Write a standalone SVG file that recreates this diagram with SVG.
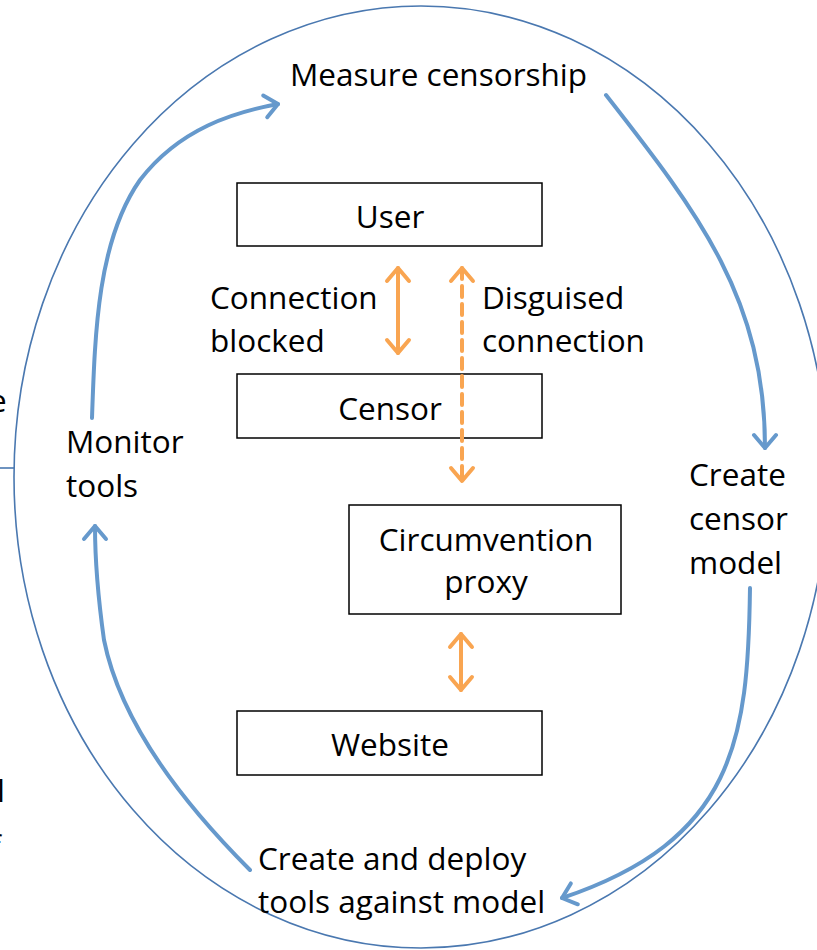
<svg xmlns="http://www.w3.org/2000/svg" width="817" height="950" viewBox="0 0 817 950">
<style>
text{font-family:"Open Sans","Liberation Sans",sans-serif;font-size:31.5px;fill:#000}
.box{fill:#fff;stroke:#000;stroke-width:1.5}
.blue{fill:none;stroke:#6699cc;stroke-width:4;stroke-linecap:round}
.org{fill:none;stroke:#f9a551;stroke-width:4;stroke-linecap:round}
</style>
<defs>
<marker id="bh" markerWidth="10" markerHeight="10" refX="7" refY="5" orient="auto" markerUnits="userSpaceOnUse" viewBox="0 0 10 10" overflow="visible">
<path d="M-6,-6 L7,5 L-6,16" fill="none" stroke="#6699cc" stroke-width="4" stroke-linecap="round" stroke-linejoin="round"/>
</marker>
<marker id="oh" markerWidth="10" markerHeight="10" refX="7" refY="5" orient="auto-start-reverse" markerUnits="userSpaceOnUse" viewBox="0 0 10 10" overflow="visible">
<path d="M-6,-6 L7,5 L-6,16" fill="none" stroke="#f9a551" stroke-width="4" stroke-linecap="round" stroke-linejoin="round"/>
</marker>
</defs>
<g id="background">
<ellipse cx="421" cy="477" rx="407" ry="471" fill="none" stroke="#4a78b0" stroke-width="1.6"/>
<line x1="0" y1="468" x2="14" y2="468" stroke="#4a78b0" stroke-width="1.6"/>
<text x="-11" y="412">e</text>
<text x="-3" y="802">l</text>
<text x="-10" y="858">f</text>
</g>
<g id="measure"><text x="290" y="86">Measure censorship</text></g>
<g id="user"><rect class="box" x="237" y="183" width="305" height="63"/><text x="390" y="228" text-anchor="middle">User</text></g>
<g id="censor"><rect class="box" x="237" y="374" width="305" height="64"/><text x="390" y="420" text-anchor="middle">Censor</text></g>
<g id="proxy"><rect class="box" x="349" y="505" width="272" height="109"/><text x="486" y="551" text-anchor="middle">Circumvention</text><text x="486" y="593" text-anchor="middle">proxy</text></g>
<g id="website"><rect class="box" x="237" y="711" width="305" height="64"/><text x="390" y="756" text-anchor="middle">Website</text></g>
<g id="blocked"><text x="210" y="309">Connection</text><text x="210" y="352">blocked</text></g>
<g id="disguised"><text x="482" y="309">Disguised</text><text x="482" y="352">connection</text></g>
<g id="monitor"><text x="66" y="453">Monitor</text><text x="66" y="497">tools</text></g>
<g id="model"><text x="689" y="486">Create</text><text x="689" y="530">censor</text><text x="689" y="574">model</text></g>
<g id="deploy"><text x="258" y="870">Create and deploy</text><text x="258" y="913">tools against model</text></g>
<g id="connectors">
<path class="blue" d="M92,418 C95,330 98,240 140,180 C180,128 235,112 278,104" marker-end="url(#bh)"/>
<path class="blue" d="M606,95 C700,215 765,300 765,448" marker-end="url(#bh)"/>
<path class="blue" d="M750,588 C748,740 735,840 562,898" marker-end="url(#bh)"/>
<path class="blue" d="M250,870 C180,800 120,720 104,640 C97,590 95,560 95,526" marker-end="url(#bh)"/>
<path class="org" d="M398,268 L398,353" marker-start="url(#oh)" marker-end="url(#oh)"/>
<path class="org" d="M462,268 L462,481" stroke-dasharray="11,7" marker-start="url(#oh)" marker-end="url(#oh)"/>
<path class="org" d="M461,634 L461,690" marker-start="url(#oh)" marker-end="url(#oh)"/>
</g>
</svg>
